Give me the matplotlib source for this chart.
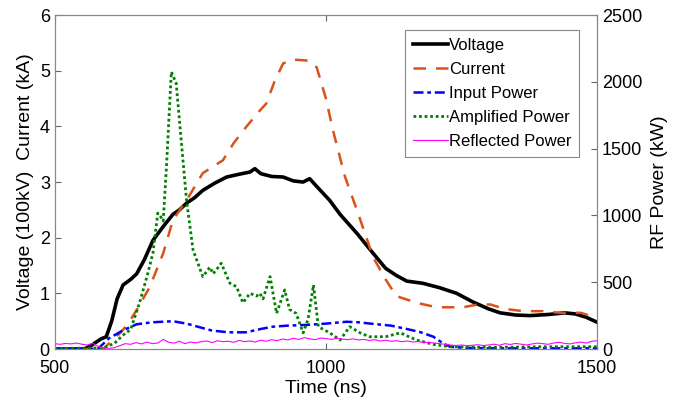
import numpy as np
import matplotlib.pyplot as plt

plt.rcParams['font.family'] = ['Liberation Sans', 'DejaVu Sans']

# Voltage (100 kV)
t_volt = [500, 555, 570, 585, 595, 605, 615, 626, 640, 651, 665, 681, 700, 718, 730, 743,
          758, 773, 795, 817, 840, 860, 869, 880, 900, 921, 940, 958, 970, 985, 1007,
          1026, 1057, 1087, 1110, 1130, 1149, 1179, 1210, 1241, 1270, 1300, 1321, 1350,
          1376, 1410, 1440, 1460, 1480, 1500]
voltage = [0, 0, 0.08, 0.18, 0.22, 0.5, 0.9, 1.15, 1.25, 1.35, 1.6, 1.95, 2.2, 2.42, 2.5,
           2.62, 2.72, 2.85, 2.98, 3.09, 3.14, 3.18, 3.24, 3.15, 3.1, 3.09, 3.02, 3.0, 3.06,
           2.9, 2.67, 2.42, 2.08, 1.72, 1.45, 1.32, 1.22, 1.18, 1.1, 1.0, 0.85, 0.72, 0.65,
           0.61, 0.6, 0.62, 0.65, 0.63, 0.57, 0.48]

# Current (kA)
t_curr = [500, 590, 600, 620, 635, 651, 675, 700, 718, 743, 773, 810, 830, 853, 875, 890,
          905, 921, 939, 970, 983, 1000, 1013, 1035, 1057, 1087, 1110, 1130, 1167, 1204,
          1253, 1280, 1303, 1330, 1364, 1400, 1432, 1470, 1493, 1500]
current = [0, 0, 0.1, 0.28, 0.45, 0.7, 1.11, 1.72, 2.32, 2.67, 3.16, 3.39, 3.7, 3.99, 4.25,
           4.41, 4.8, 5.13, 5.2, 5.18, 5.06, 4.5, 3.93, 3.1, 2.5, 1.65, 1.25, 0.95, 0.83,
           0.75, 0.75, 0.8, 0.8, 0.72, 0.68, 0.68, 0.65, 0.65, 0.58, 0.55]

# Input power (kW)
t_in = [500, 580, 600, 626, 651, 680, 718, 743, 770, 790, 820, 853, 880, 902, 930, 963,
        1000, 1038, 1060, 1087, 1120, 1149, 1175, 1198, 1215, 1229, 1260, 1300, 1500]
p_in = [2, 2, 80, 140, 185, 200, 208, 190, 160, 138, 125, 125, 150, 167, 175, 180, 190,
        204, 200, 188, 175, 150, 125, 92, 45, 17, 8, 5, 5]

# Amplified power (kW)
t_amp = [500, 590, 610, 626, 640, 657, 670, 681, 690, 695, 700, 706, 715, 724, 731, 743,
         755, 773, 786, 792, 800, 807, 823, 835, 847, 860, 872, 878, 884, 897, 909, 924,
         933, 945, 958, 967, 977, 986, 1007, 1026, 1044, 1063, 1080, 1110, 1137, 1167,
         1200, 1229, 1300, 1400, 1500]
p_amp = [4, 8, 42, 104, 146, 354, 542, 717, 1017, 992, 958, 1363, 2075, 1988, 1663, 1113,
         742, 542, 613, 563, 604, 642, 492, 467, 346, 417, 396, 417, 375, 542, 267, 442,
         296, 267, 121, 221, 479, 167, 121, 67, 167, 121, 92, 92, 121, 67, 33, 17, 12, 17,
         17]

# Reflected power (kW), every 10 ns from 500 to 1500
t_ref = np.arange(500, 1501, 10)
p_ref = [40, 35, 42, 38, 45, 36, 30, 42, 20, 8,
         5, 10, 25, 40, 35, 48, 38, 52, 40, 45,
         72, 50, 44, 58, 40, 52, 46, 55, 60, 48,
         62, 55, 58, 50, 64, 55, 60, 52, 66, 58,
         70, 62, 75, 68, 80, 72, 85, 76, 70, 82,
         78, 72, 80, 74, 70, 76, 68, 72, 64, 70,
         60, 66, 58, 62, 55, 60, 52, 56, 48, 50,
         44, 40, 35, 30, 26, 30, 24, 28, 32, 26,
         30, 36, 28, 40, 34, 42, 36, 30, 38, 44,
         40, 35, 45, 50, 42, 38, 46, 52, 44, 58,
         62]

fig = plt.figure(figsize=(6.84, 4.07), dpi=100)
ax = fig.add_axes([0.080, 0.1425, 0.793, 0.8205])
ax2 = ax.twinx()

l1, = ax.plot(t_volt, voltage, color='black', lw=2.6, label='Voltage')
l2, = ax.plot(t_curr, current, color='#D95319', lw=1.8, ls=(0, (5, 4)), label='Current')
l3, = ax2.plot(t_in, p_in, color='#0000FF', lw=1.8, ls=(0, (4, 1.5, 1.5, 1.5)), label='Input Power')
l4, = ax2.plot(t_amp, p_amp, color='#008000', lw=2.0, ls=(0, (1, 1)), label='Amplified Power')
l5, = ax2.plot(t_ref, p_ref, color='#FF00FF', lw=0.8, label='Reflected Power')

ax.set_xlim(500, 1500)
ax.set_ylim(0, 6)
ax2.set_ylim(0, 2500)
ax.set_xticks([500, 1000, 1500])
ax.set_yticks(range(7))
ax2.set_yticks([0, 500, 1000, 1500, 2000, 2500])

ax.set_xlabel('Time (ns)', fontsize=14, labelpad=2)
ax.set_ylabel('Voltage (100kV)  Current (kA)', fontsize=14, labelpad=4)
ax2.set_ylabel('RF Power (kW)', fontsize=14, labelpad=6)

for a in (ax, ax2):
    for s in a.spines.values():
        s.set_color('#888888')
    a.tick_params(labelsize=13, direction='in', color='#666666', length=4)
ax.tick_params(top=True)
ax.tick_params(axis='x', pad=8)

leg = ax.legend(handles=[l1, l2, l3, l4, l5], loc='upper right',
                bbox_to_anchor=(0.967, 0.955), borderaxespad=0, fontsize=12,
                fancybox=False, edgecolor='#888888', framealpha=1,
                handlelength=2.1, handletextpad=0.1, labelspacing=0.55,
                borderpad=0.45)
leg.get_frame().set_linewidth(0.8)

fig.savefig('out.png', dpi=100)
